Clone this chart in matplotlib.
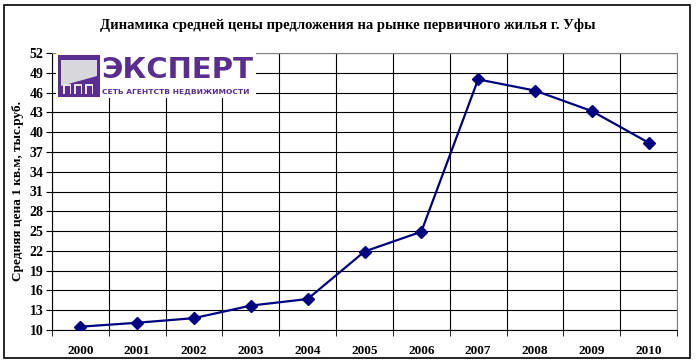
import matplotlib.pyplot as plt
import matplotlib.patches as mpatches
import numpy as np

# Данные
years = ['2000', '2001', '2002', '2003', '2004', '2005', '2006', '2007', '2008', '2009', '2010']
prices = [10.5, 11.1, 11.8, 13.7, 14.7, 21.9, 24.9, 48.0, 46.3, 43.2, 38.4]
y_ticks = list(range(10, 53, 3))

plt.rcParams['font.family'] = ['Liberation Serif', 'DejaVu Serif']

W, H = 696, 363
fig = plt.figure(figsize=(W / 100, H / 100), dpi=100)
fig.patch.set_facecolor('white')

# внешняя рамка
fig.patches.append(mpatches.Rectangle((4 / W, 1 - 358 / H), 686 / W, 353 / H,
                                      transform=fig.transFigure, fill=False,
                                      edgecolor='black', linewidth=1.2))

ax = fig.add_axes([52 / W, 1 - 330 / H, 625 / W, 277 / H])
x = np.arange(len(years))
ax.plot(x, prices, color='#000080', linewidth=1.6, marker='D', markersize=6.5,
        markerfacecolor='#000080', markeredgecolor='#000080', zorder=3)

ax.set_xlim(-0.5, len(years) - 0.5)
ax.set_ylim(10, 52)
ax.set_yticks(y_ticks)
ax.set_yticklabels([str(v) for v in y_ticks], fontsize=10, fontweight='bold')
ax.set_xticks(x)
ax.set_xticklabels(years, fontsize=9.5, fontweight='bold')
ax.set_xticks(np.arange(-0.5, len(years)), minor=True)
ax.tick_params(axis='x', which='major', length=0, pad=11)
ax.tick_params(axis='x', which='minor', length=4, direction='out', color='black')
ax.tick_params(axis='y', length=4, direction='out', pad=2)

ax.grid(True, axis='y', color='black', linewidth=0.8)
ax.grid(True, axis='x', which='minor', color='black', linewidth=0.8)
for s in ['top', 'right']:
    ax.spines[s].set_color('#808080')
for s in ['left', 'bottom']:
    ax.spines[s].set_color('black')

ax.set_ylabel('Средняя цена 1 кв.м, тыс.руб.', fontsize=9.5, fontweight='bold', labelpad=4)

fig.text(348 / W, 1 - 25 / H,
         'Динамика средней цены предложения на рынке первичного жилья г. Уфы',
         ha='center', va='center', fontsize=10.5, fontweight='bold')

# логотип
purple = '#5a2d91'
def fx(px):
    return px / W
def fy(py):
    return 1 - py / H
fig.patches.append(mpatches.Rectangle((fx(56), fy(98)), fx(200), 46 / H, transform=fig.transFigure,
                                      facecolor='white', edgecolor='none', zorder=5))
fig.patches.append(mpatches.Rectangle((fx(58), fy(97)), fx(42), 42 / H, transform=fig.transFigure,
                                      facecolor=purple, edgecolor='none', zorder=6))
fig.patches.append(mpatches.Polygon([(fx(61), fy(60)), (fx(97), fy(60)), (fx(97), fy(76)), (fx(61), fy(86))],
                                    closed=True, transform=fig.transFigure,
                                    facecolor='#d8d8dc', edgecolor='none', zorder=7))
for cx in [67, 78, 89]:
    fig.patches.append(mpatches.Rectangle((fx(cx - 4), fy(94)), fx(8), 10 / H, transform=fig.transFigure,
                                          facecolor='#e6e6ea', edgecolor='none', zorder=7))
    fig.patches.append(mpatches.Rectangle((fx(cx - 2.5), fy(94)), fx(5), 8 / H, transform=fig.transFigure,
                                          facecolor=purple, edgecolor='none', zorder=8))
fig.text(fx(101), fy(70), 'ЭКСПЕРТ', ha='left', va='center', fontsize=21, fontweight='heavy',
         color=purple, family=['DejaVu Sans'], zorder=9)
fig.text(fx(102), fy(92), 'СЕТЬ АГЕНТСТВ НЕДВИЖИМОСТИ', ha='left', va='center', fontsize=5.4,
         fontweight='bold', color=purple, family=['DejaVu Sans'], zorder=9)

fig.savefig('out.png', dpi=100)
